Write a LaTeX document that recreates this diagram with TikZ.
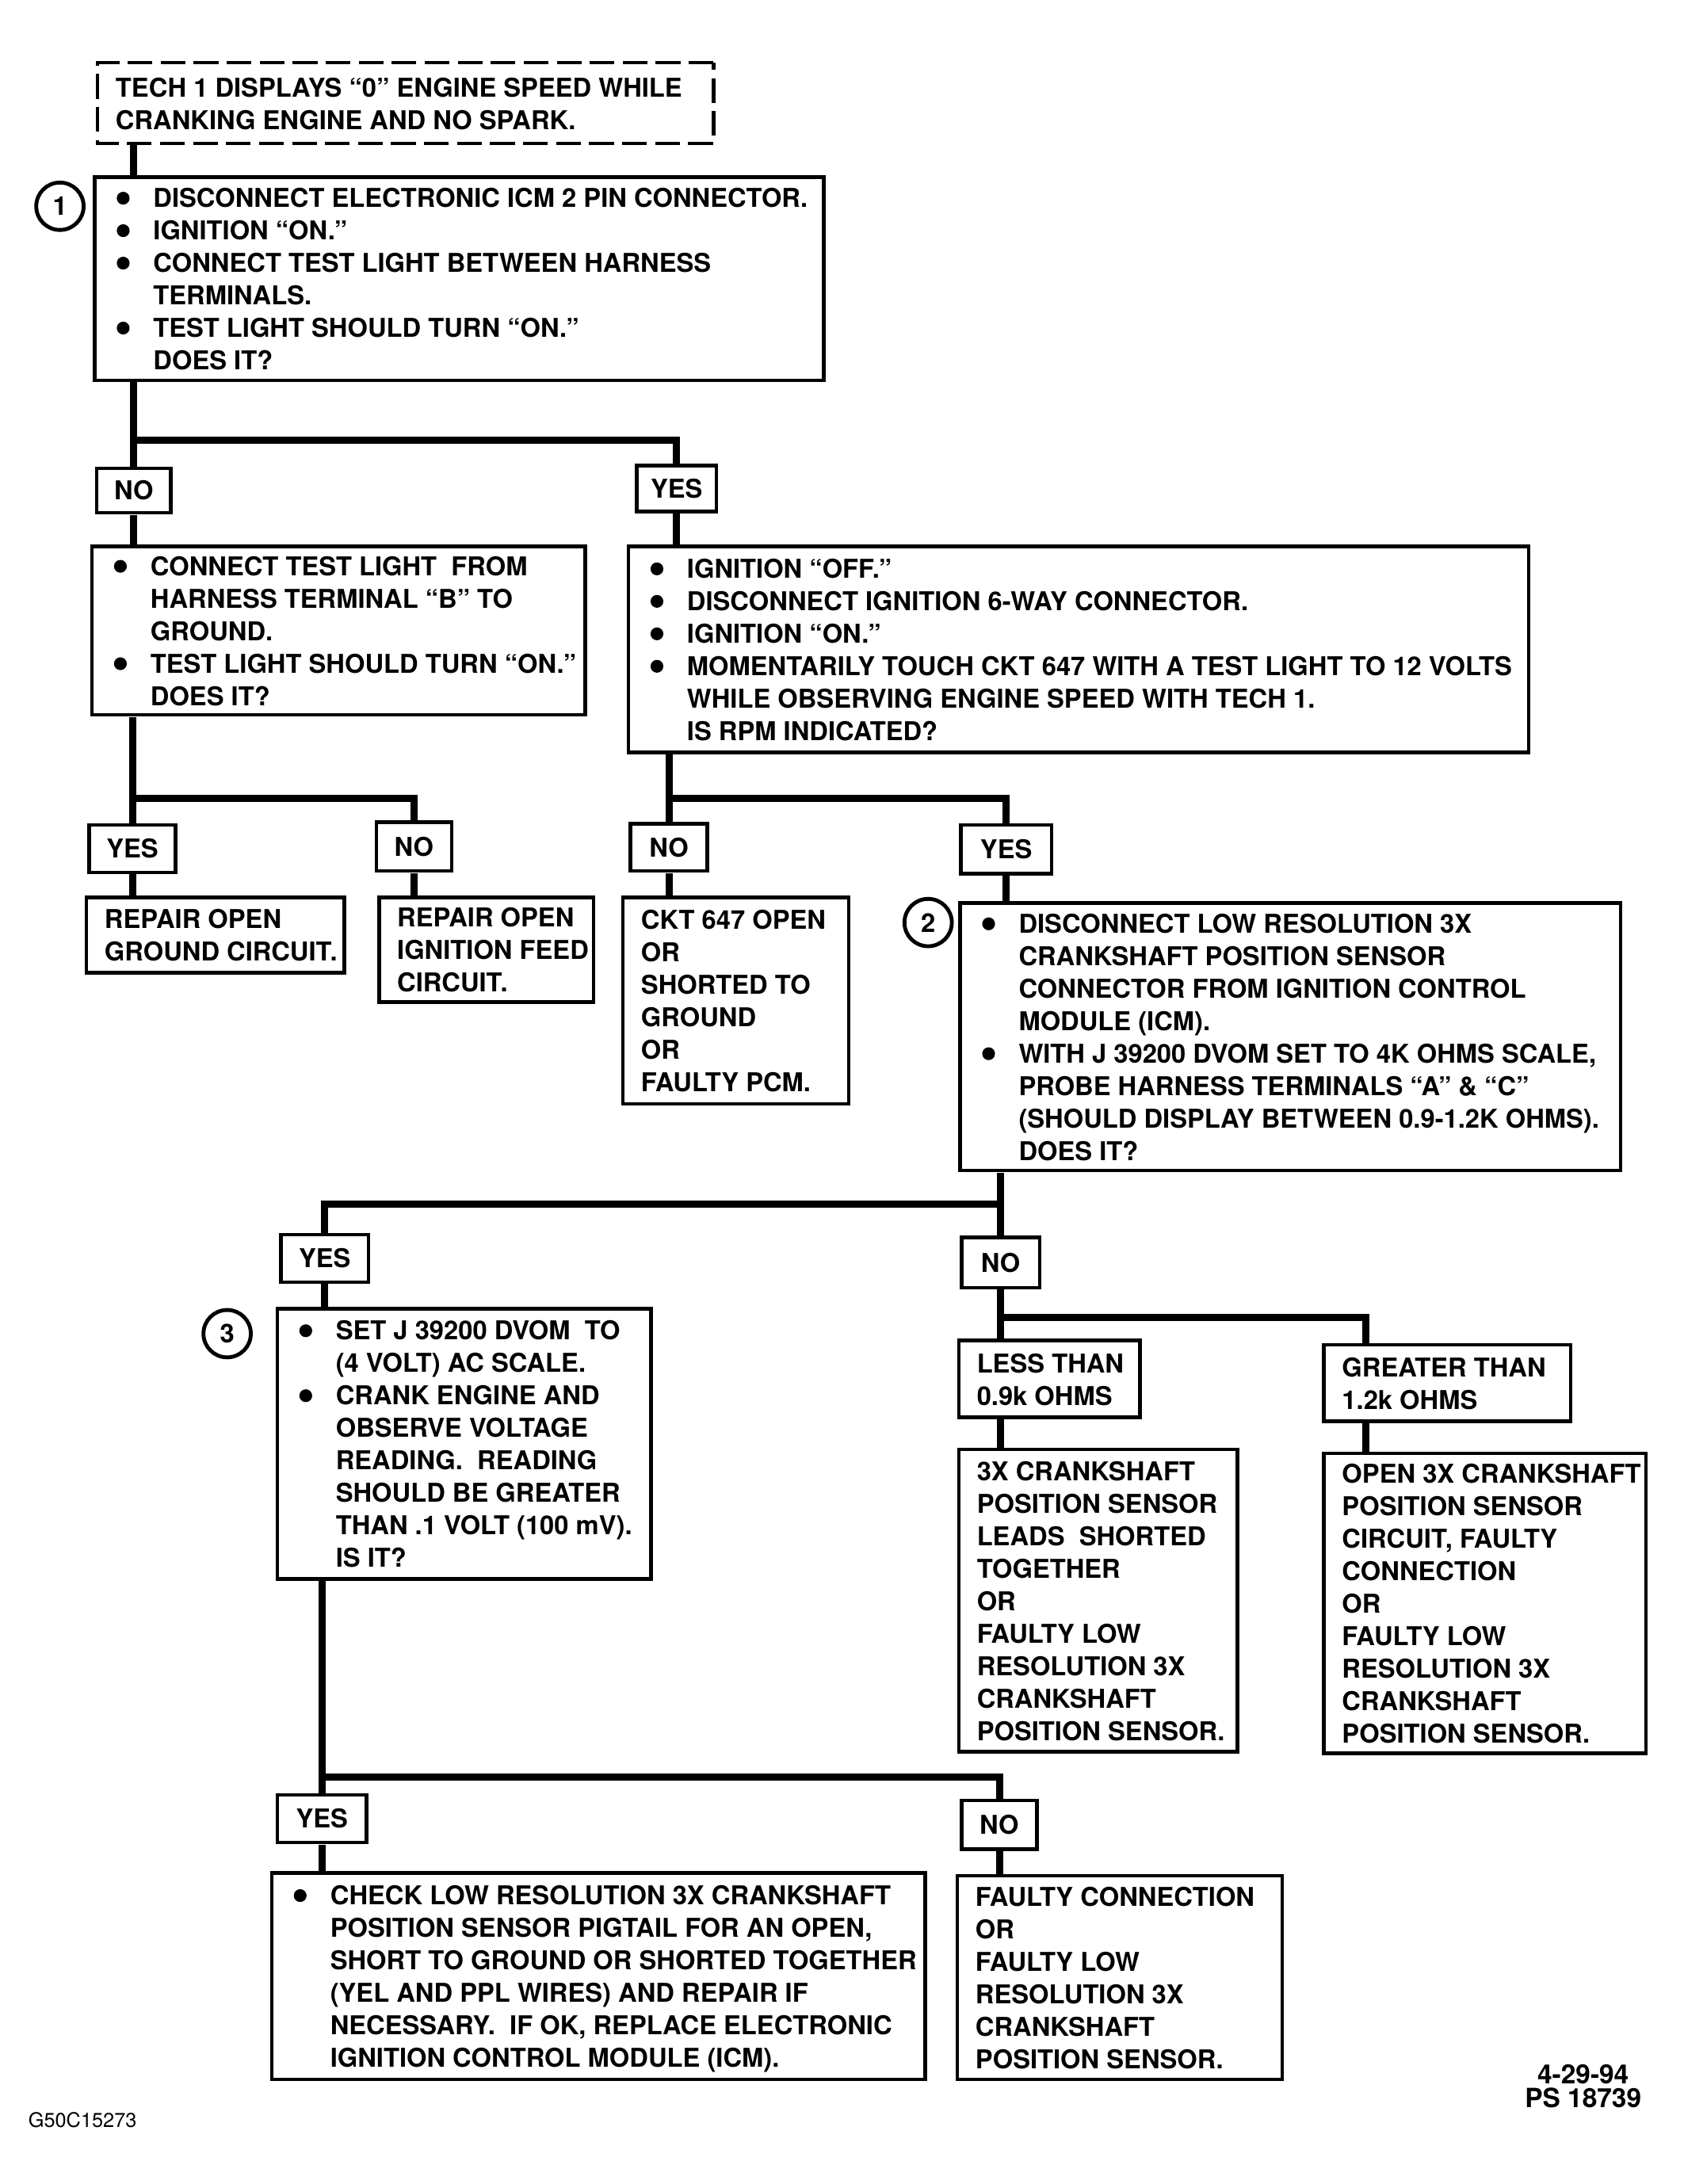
\documentclass[tikz,border=0pt]{standalone}
\usepackage{graphicx}
\usepackage{fontspec}
\setmainfont{TeX Gyre Heros}
\newcommand{\fs}{\fontsize{9.3}{11.65}\selectfont\bfseries}
\newcommand{\bu}{\makebox[14.5pt][l]{\hspace{1.4pt}\tikz[baseline=-3.3pt]\fill (0,0) circle (2.3pt);}}
\newcommand{\BT}[2]{\makebox[#1][l]{\raisebox{-1.2pt}[\height][\depth]{\begin{tabular}{@{}l@{}l@{}}#2\end{tabular}}}}
\newcommand{\TB}[2]{\makebox[#1][l]{\raisebox{-1.2pt}[\height][\depth]{\begin{tabular}{@{}l@{}}#2\end{tabular}}}}
\begin{document}
\begin{tikzpicture}[x=0.5pt,y=-0.5pt,scale=1.0132,
  every node/.append style={transform shape},
  tbox/.style={draw, line width=1.3pt, rectangle, inner xsep=6.5pt, inner ysep=0pt, font=\fs},
  yn/.style={draw, line width=1.3pt, rectangle, inner sep=0pt, font=\fs},
  conn/.style={line width=2.6pt},
  num/.style={circle, draw, line width=1.4pt, minimum size=17pt, inner sep=0pt, font=\fs}]
\path[use as bounding box] (0,0) rectangle (1208,1567.2);

% top
\node[tbox, dash pattern=on 9pt off 3pt, minimum height=29pt] (top) at (291,74)
  {\TB{208pt}{TECH 1 DISPLAYS “0” ENGINE SPEED WHILE\\ CRANKING ENGINE AND NO SPARK.}};
\node[tbox, minimum height=73pt] (b1) at (329.5,200)
  {\BT{248.5pt}{\bu & DISCONNECT ELECTRONIC ICM 2 PIN CONNECTOR.\\
  \bu & IGNITION “ON.”\\
  \bu & CONNECT TEST LIGHT BETWEEN HARNESS\\
  & TERMINALS.\\
  \bu & TEST LIGHT SHOULD TURN “ON.”\\
  & DOES IT?}};
\node[num] (n1) at (43,148) {1};

\coordinate (j1) at (96,316);
\node[yn, minimum width=26.5pt, minimum height=16pt] (no1) at (96,352) {NO};
\node[yn, minimum width=28.5pt, minimum height=16.5pt] (yes1) at (485.5,350.5) {YES};

\node[tbox, minimum height=60.5pt] (b2a) at (243,452.5)
  {\BT{164pt}{\bu & CONNECT TEST LIGHT \ FROM\\
  & HARNESS TERMINAL “B” TO\\
  & GROUND.\\
  \bu & TEST LIGHT SHOULD TURN “ON.”\\
  & DOES IT?}};
\node[tbox, minimum height=74pt] (b2b) at (774,466)
  {\BT{310pt}{\bu & IGNITION “OFF.”\\
  \bu & DISCONNECT IGNITION 6-WAY CONNECTOR.\\
  \bu & IGNITION “ON.”\\
  \bu & MOMENTARILY TOUCH CKT 647 WITH A TEST LIGHT TO 12 VOLTS\\
  & WHILE OBSERVING ENGINE SPEED WITH TECH 1.\\
  & IS RPM INDICATED?}};

\coordinate (j2) at (95,573);
\node[yn, minimum width=31pt, minimum height=17pt] (yes2) at (95,609) {YES};
\node[yn, minimum width=27pt, minimum height=17.5pt] (no2) at (297,607.5) {NO};
\node[tbox, minimum height=27pt] (r1) at (154.5,671) {\TB{79.5pt}{REPAIR OPEN\\ GROUND CIRCUIT.}};
\node[tbox, minimum height=37.5pt] (r2) at (349,681.5) {\TB{64pt}{REPAIR OPEN\\ IGNITION FEED\\ CIRCUIT.}};

\coordinate (j3) at (480,573);
\node[yn, minimum width=27.5pt, minimum height=17pt] (no3) at (480,608) {NO};
\node[yn, minimum width=32.5pt, minimum height=17.5pt] (yes3) at (722,609.5) {YES};
\node[tbox, minimum height=74pt] (r3) at (528,718)
  {\TB{68pt}{CKT 647 OPEN\\ OR\\ SHORTED TO\\ GROUND\\ OR\\ FAULTY PCM.}};
\node[tbox, minimum height=96pt] (b3) at (926,744)
  {\BT{224pt}{\bu & DISCONNECT LOW RESOLUTION 3X\\
  & CRANKSHAFT POSITION SENSOR\\
  & CONNECTOR FROM IGNITION CONTROL\\
  & MODULE (ICM).\\
  \bu & WITH J 39200 DVOM SET TO 4K OHMS SCALE,\\
  & PROBE HARNESS TERMINALS “A” \& “C”\\
  & (SHOULD DISPLAY BETWEEN 0.9-1.2K OHMS).\\
  & DOES IT?}};
\node[num] (n2) at (666,662) {2};

\coordinate (j4) at (718,864);
\node[yn, minimum width=31.5pt, minimum height=17pt] (yes4) at (233,903) {YES};
\node[yn, minimum width=28pt, minimum height=18pt] (no4) at (718,906) {NO};
\node[tbox, minimum height=97pt] (b4) at (333,1036)
  {\BT{121pt}{\bu & SET J 39200 DVOM \ TO\\
  & (4 VOLT) AC SCALE.\\
  \bu & CRANK ENGINE AND\\
  & OBSERVE VOLTAGE\\
  & READING. \ READING\\
  & SHOULD BE GREATER\\
  & THAN .1 VOLT (100 mV).\\
  & IS IT?}};
\node[num] (n3) at (163,957) {3};

\coordinate (j5) at (718,945);
\coordinate (j5b) at (980,945);
\node[tbox, minimum height=27.5pt] (less) at (753,989.5) {\TB{52pt}{LESS THAN\\ 0.9k OHMS}};
\node[tbox, minimum height=27.5pt] (great) at (1038.5,992.5) {\TB{75.5pt}{GREATER THAN\\ 1.2k OHMS}};
\node[tbox, minimum height=108.5pt] (r4) at (788,1148.5)
  {\TB{87pt}{3X CRANKSHAFT\\ POSITION SENSOR\\ LEADS \ SHORTED\\ TOGETHER\\ OR\\ FAULTY LOW\\ RESOLUTION 3X\\ CRANKSHAFT\\ POSITION SENSOR.}};
\node[tbox, minimum height=107.5pt] (r5) at (1065.5,1150.5)
  {\TB{102.5pt}{OPEN 3X CRANKSHAFT\\ POSITION SENSOR\\ CIRCUIT, FAULTY\\ CONNECTION\\ OR\\ FAULTY LOW\\ RESOLUTION 3X\\ CRANKSHAFT\\ POSITION SENSOR.}};

\coordinate (j6) at (231,1275);
\node[yn, minimum width=32pt, minimum height=17pt] (yes5) at (231,1305) {YES};
\node[yn, minimum width=27pt, minimum height=17.5pt] (no5) at (717,1309.5) {NO};
\node[tbox, minimum height=74pt] (b5) at (429.5,1418)
  {\BT{221.5pt}{\bu & CHECK LOW RESOLUTION 3X CRANKSHAFT\\
  & POSITION SENSOR PIGTAIL FOR AN OPEN,\\
  & SHORT TO GROUND OR SHORTED TOGETHER\\
  & (YEL AND PPL WIRES) AND REPAIR IF\\
  & NECESSARY. \ IF OK, REPLACE ELECTRONIC\\
  & IGNITION CONTROL MODULE (ICM).}};
\node[tbox, minimum height=73pt] (r6) at (803.5,1419)
  {\TB{103.5pt}{FAULTY CONNECTION\\ OR\\ FAULTY LOW\\ RESOLUTION 3X\\ CRANKSHAFT\\ POSITION SENSOR.}};

\node[align=center, inner sep=0pt, font=\fontsize{9.5}{8.6}\selectfont\bfseries] (date) at (1136,1497) {4-29-94\\PS 18739};
\node[anchor=west, inner sep=0pt, font=\fontsize{7.2}{8}\selectfont] (code) at (20,1521) {G50C15273};

% connectors
\draw[conn] (top.south -| j1) -- (b1.north -| j1);
\draw[conn] (b1.south -| j1) -- (no1.north);
\draw[conn] (j1) -| (yes1.north);
\draw[conn] (no1.south) -- (no1.south |- b2a.north);
\draw[conn] (yes1.south) -- (yes1.south |- b2b.north);

\draw[conn] (b2a.south -| j2) -- (yes2.north);
\draw[conn] (j2) -| (no2.north);
\draw[conn] (yes2.south) -- (yes2.south |- r1.north);
\draw[conn] (no2.south) -- (no2.south |- r2.north);

\draw[conn] (b2b.south -| j3) -- (no3.north);
\draw[conn] (j3) -| (yes3.north);
\draw[conn] (no3.south) -- (no3.south |- r3.north);
\draw[conn] (yes3.south) -- (yes3.south |- b3.north);

\draw[conn] (b3.south -| j4) -- (no4.north);
\draw[conn] (j4) -| (yes4.north);
\draw[conn] (yes4.south) -- (yes4.south |- b4.north);

\draw[conn] (no4.south) -- (less.north -| no4.south);
\draw[conn] (j5) -- (j5b) -- (j5b |- great.north);
\draw[conn] (less.south -| no4.south) -- (r4.north -| no4.south);
\draw[conn] (great.south -| j5b) -- (r5.north -| j5b);

\draw[conn] (b4.south -| j6) -- (yes5.north);
\draw[conn] (j6) -| (no5.north);
\draw[conn] (yes5.south) -- (yes5.south |- b5.north);
\draw[conn] (no5.south) -- (no5.south |- r6.north);
\end{tikzpicture}
\end{document}
